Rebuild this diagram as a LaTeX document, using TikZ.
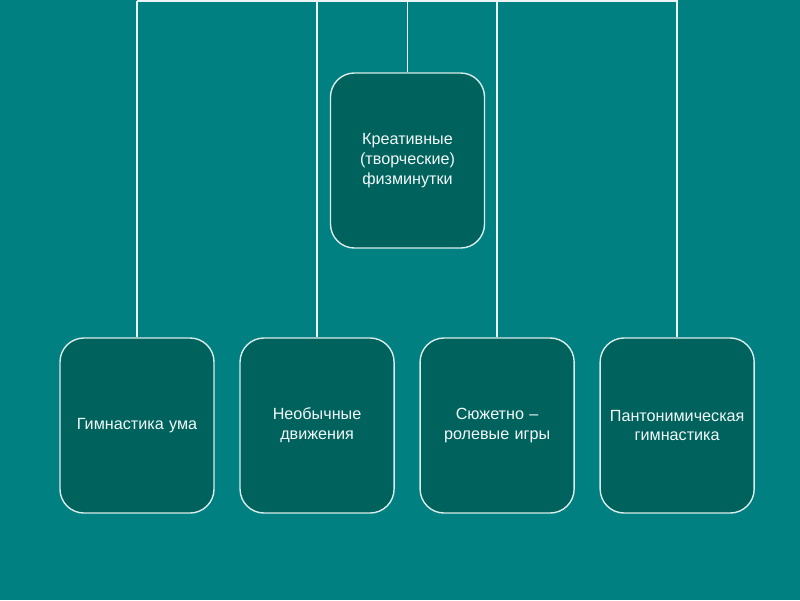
\documentclass[tikz,border=0pt]{standalone}
\usepackage{fontspec}
\setmainfont{Liberation Sans}
\usetikzlibrary{positioning, backgrounds}
\definecolor{slide}{RGB}{0,128,128}
\definecolor{boxfill}{RGB}{0,98,93}
\tikzstyle{card} = [rectangle, rounded corners=0.6cm, minimum width=3.85cm, minimum height=4.375cm, text width=3.6cm, align=center, draw=white!85!slide, line width=1pt, fill=boxfill, text=white!95!slide, font=\fontsize{11.5}{14.2}\selectfont]
\tikzstyle{line} = [-, draw=white!92!slide, line width=1.4pt]

\begin{document}
\begin{tikzpicture}[x=0.025cm, y=-0.025cm]

    \fill [slide] (0, 0) rectangle (800, 600);
    \useasboundingbox (0, 0) rectangle (800, 600);

    \node (creative) [card] at (407.5, 160.5) {Креативные\\(творческие)\\физминутки};

    \node (mind) [card] at (137, 425.5) {Гимнастика ума};
    \node (unusual) [card, right=0.615cm of mind] {Необычные\\движения};
    \node (roleplay) [card, right=0.615cm of unusual] {Сюжетно --\\ролевые игры};
    \node (panto) [card, right=0.615cm of roleplay] {Пантонимическая\\гимнастика};

    \coordinate (topleft) at (137, 1);
    \coordinate (topright) at (678, 1);

    \draw [line] (topleft) -- (topright);
    \draw [line] (mind.north) -- (mind.north |- topleft);
    \draw [line] (unusual.north) -- (unusual.north |- topleft);
    \draw [line] (creative.north) -- (creative.north |- topleft);
    \draw [line] (roleplay.north) -- (roleplay.north |- topleft);
    \draw [line] (panto.north) -- (panto.north |- topleft);

\end{tikzpicture}
\end{document}
